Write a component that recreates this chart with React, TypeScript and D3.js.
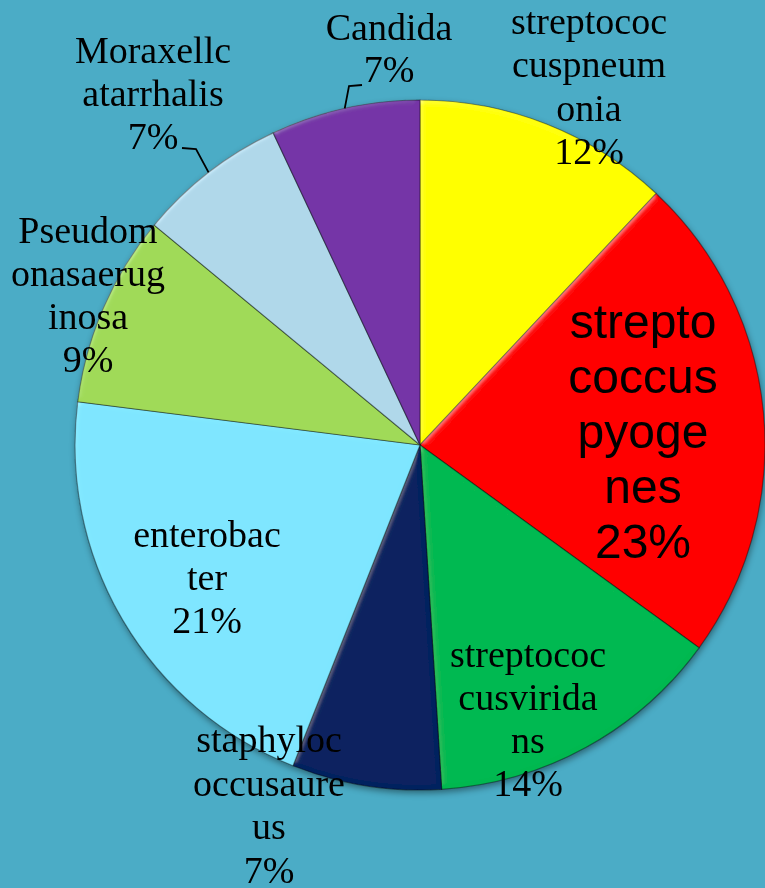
import React from "react";
import * as d3 from "d3";

const categories = [
  "streptococcuspneumonia",
  "streptococcuspyogenes",
  "streptococcusviridans",
  "staphylococcusaureus",
  "enterobacter",
  "Pseudomonasaeruginosa",
  "Moraxellcatarrhalis",
  "Candida",
];
const values = [12, 23, 14, 7, 21, 9, 7, 7];
const colors = ["#FFFF00", "#FF0000", "#00B850", "#04215F", "#7EE6FF", "#A0DA58", "#B0D8EA", "#7434A6"];
const labelLines = [
  ["streptococ", "cuspneum", "onia"],
  ["strepto", "coccus", "pyoge", "nes"],
  ["streptococ", "cusvirida", "ns"],
  ["staphyloc", "occusaure", "us"],
  ["enterobac", "ter"],
  ["Pseudom", "onasaerug", "inosa"],
  ["Moraxellc", "atarrhalis"],
  ["Candida"],
];

const W = 765;
const H = 888;
const CX = 420;
const CY = 445;
const R = 345;

// label layout: center x, first baseline, line height, font
const labelLayout = [
  { x: 589, y: 34, lh: 43.3, size: 38, sans: false },
  { x: 643, y: 338, lh: 55, size: 48, sans: true },
  { x: 528, y: 667, lh: 43, size: 38, sans: false },
  { x: 269, y: 752, lh: 43.5, size: 38, sans: false },
  { x: 207, y: 547, lh: 43, size: 38, sans: false },
  { x: 88, y: 243, lh: 43, size: 38, sans: false },
  { x: 153, y: 63, lh: 43, size: 38, sans: false },
  { x: 389, y: 40, lh: 42, size: 38, sans: false },
];

// leader lines: label-side points for slices with outside labels
const leaders: Record<number, [number, number][]> = {
  6: [[182, 148], [196, 149]],
  7: [[362, 85], [349, 86]],
};

export default function App() {
  const pie = d3.pie<number>().sort(null).value((d) => d).startAngle(0).endAngle(2 * Math.PI);
  const arcs = pie(values);
  const arc = d3.arc<d3.PieArcDatum<number>>().innerRadius(0).outerRadius(R);

  return (
    <svg
      width={W}
      height={H}
      style={{ position: "absolute", left: 0, top: 0, display: "block" }}
    >
      <defs>
        <filter id="shadow" x="-10%" y="-10%" width="120%" height="120%">
          <feDropShadow dx="1" dy="3" stdDeviation="3" floodColor="#000" floodOpacity="0.4" />
        </filter>
        <filter id="bevel" x="-5%" y="-5%" width="110%" height="110%">
          <feGaussianBlur in="SourceAlpha" stdDeviation="2.5" result="blur" />
          <feSpecularLighting
            in="blur"
            surfaceScale="2"
            specularConstant="0.5"
            specularExponent="20"
            lightingColor="#ffffff"
            result="spec"
          >
            <feDistantLight azimuth="225" elevation="15" />
          </feSpecularLighting>
          <feComposite in="spec" in2="SourceAlpha" operator="in" result="specIn" />
          <feComposite in="SourceGraphic" in2="specIn" operator="arithmetic" k1="0" k2="1" k3="0.35" k4="0" />
        </filter>
      </defs>
      <rect x={0} y={0} width={W} height={H} fill="#4BACC6" />
      <g transform={`translate(${CX},${CY})`} filter="url(#shadow)">
        {arcs.map((a, i) => (
          <path
            key={categories[i]}
            d={arc(a) || ""}
            fill={colors[i]}
            stroke="rgba(0,0,0,0.4)"
            strokeWidth={1.2}
            filter="url(#bevel)"
          />
        ))}
      </g>
      {arcs.map((a, i) => {
        const pts = leaders[i];
        if (!pts) return null;
        const mid = (a.startAngle + a.endAngle) / 2;
        const ex = CX + R * Math.sin(mid);
        const ey = CY - R * Math.cos(mid);
        const all = [...pts, [ex, ey] as [number, number]];
        return (
          <path
            key={"l" + i}
            d={d3.line()(all) || ""}
            fill="none"
            stroke="#000"
            strokeWidth={1.8}
          />
        );
      })}
      {arcs.map((a, i) => {
        const L = labelLayout[i];
        const lines = [...labelLines[i], `${values[i]}%`];
        return (
          <text
            key={"t" + i}
            textAnchor="middle"
            fontFamily={L.sans ? "Liberation Sans, Arial, sans-serif" : "Liberation Serif, Times New Roman, serif"}
            fontSize={L.size}
            fill="#000"
          >
            {lines.map((s, j) => (
              <tspan key={j} x={L.x} y={L.y + j * L.lh}>
                {s}
              </tspan>
            ))}
          </text>
        );
      })}
    </svg>
  );
}
